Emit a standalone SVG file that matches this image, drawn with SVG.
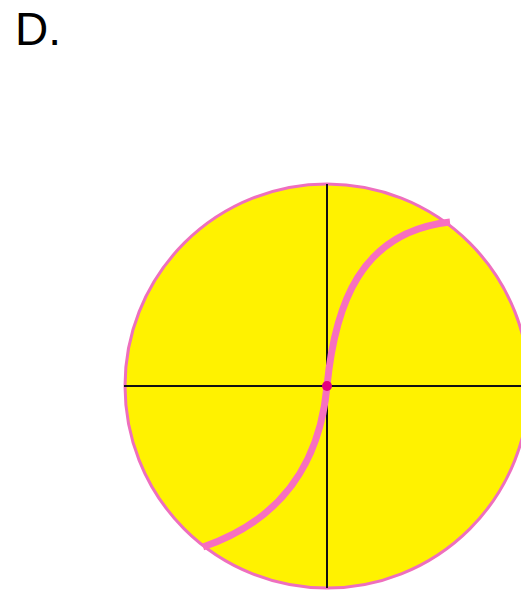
<svg xmlns="http://www.w3.org/2000/svg" width="521" height="592" viewBox="0 0 521 592">
<style>
.axis{stroke:#111;stroke-width:2;fill:none}
.curve{stroke:#F76FC0;stroke-width:7;fill:none;stroke-linecap:butt}
</style>
<rect width="521" height="592" fill="#fff"/>
<text x="15" y="45" font-family="Liberation Sans, Arial, sans-serif" font-size="46" fill="#000">D.</text>
<g id="circle">
<circle cx="327" cy="386" r="202" fill="#FFF200" stroke="#EE6FBE" stroke-width="3"/>
</g>
<g id="connectors">
<line class="axis" x1="327" y1="184" x2="327" y2="588"/>
<line class="axis" x1="124" y1="386" x2="521" y2="386"/>
<path class="curve" d="M203,547 C282,520 320,462 327,386 C335,305 360,232 450,222"/>
</g>
<g id="center">
<circle cx="327" cy="386" r="5" fill="#E5007E"/>
</g>
</svg>
